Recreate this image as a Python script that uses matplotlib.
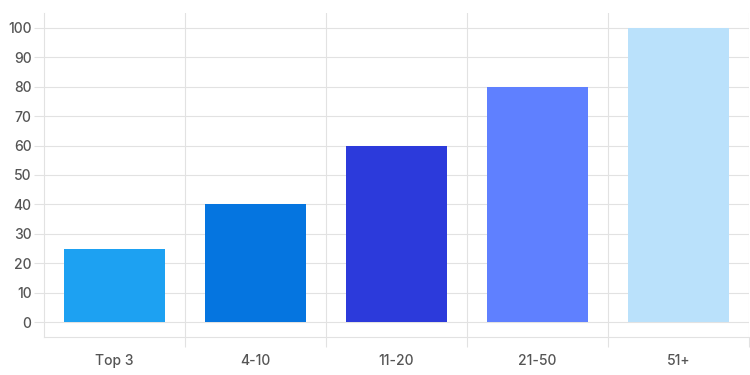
import matplotlib.pyplot as plt
import numpy as np

# data
categories = ['Top 3', '4-10', '11-20', '21-50', '51+']
values = [25, 40, 60, 80, 100]
colors = ['#1DA1F2', '#0575E0', '#2C3ADB', '#5F80FF', '#BAE1FB']
yticks = [0, 10, 20, 30, 40, 50, 60, 70, 80, 90, 100]

plt.rcParams['font.family'] = ['Inter', 'DejaVu Sans']
plt.rcParams['font.weight'] = 'medium'
grid_c = '#e2e2e2'
text_c = '#555555'

fig = plt.figure(figsize=(7.5, 3.75), dpi=100)
ax = fig.add_axes([44/750, 1-337/375, 705/750, 324/375])

x = np.arange(len(categories))
ax.bar(x, values, width=0.72, color=colors, zorder=3)

ax.set_xlim(-0.5, len(categories) - 0.5)
ax.set_ylim(-5, 105)

for s in ['top', 'right']:
    ax.spines[s].set_visible(False)
ax.spines['left'].set_color(grid_c)
ax.spines['bottom'].set_color(grid_c)
ax.spines['left'].set_linewidth(0.8)
ax.spines['bottom'].set_linewidth(0.8)

ax.set_yticks(yticks)
ax.set_yticklabels([str(t) for t in yticks])
ax.tick_params(axis='y', length=7, width=0.8, color=grid_c, pad=2,
               labelsize=10, labelcolor=text_c)

ax.set_xticks(x)
ax.set_xticklabels(categories)
ax.tick_params(axis='x', which='major', length=0, pad=12,
               labelsize=10, labelcolor=text_c)
ax.set_xticks(np.arange(0.5, len(categories)), minor=True)
ax.tick_params(axis='x', which='minor', length=7.5, width=0.8, color=grid_c)

for t in yticks:
    ax.axhline(t, color=grid_c, lw=0.8, zorder=1)
for b in np.arange(0.5, len(categories)):
    ax.axvline(b, color=grid_c, lw=0.8, zorder=1)

fig.savefig('out.png', dpi=100)
